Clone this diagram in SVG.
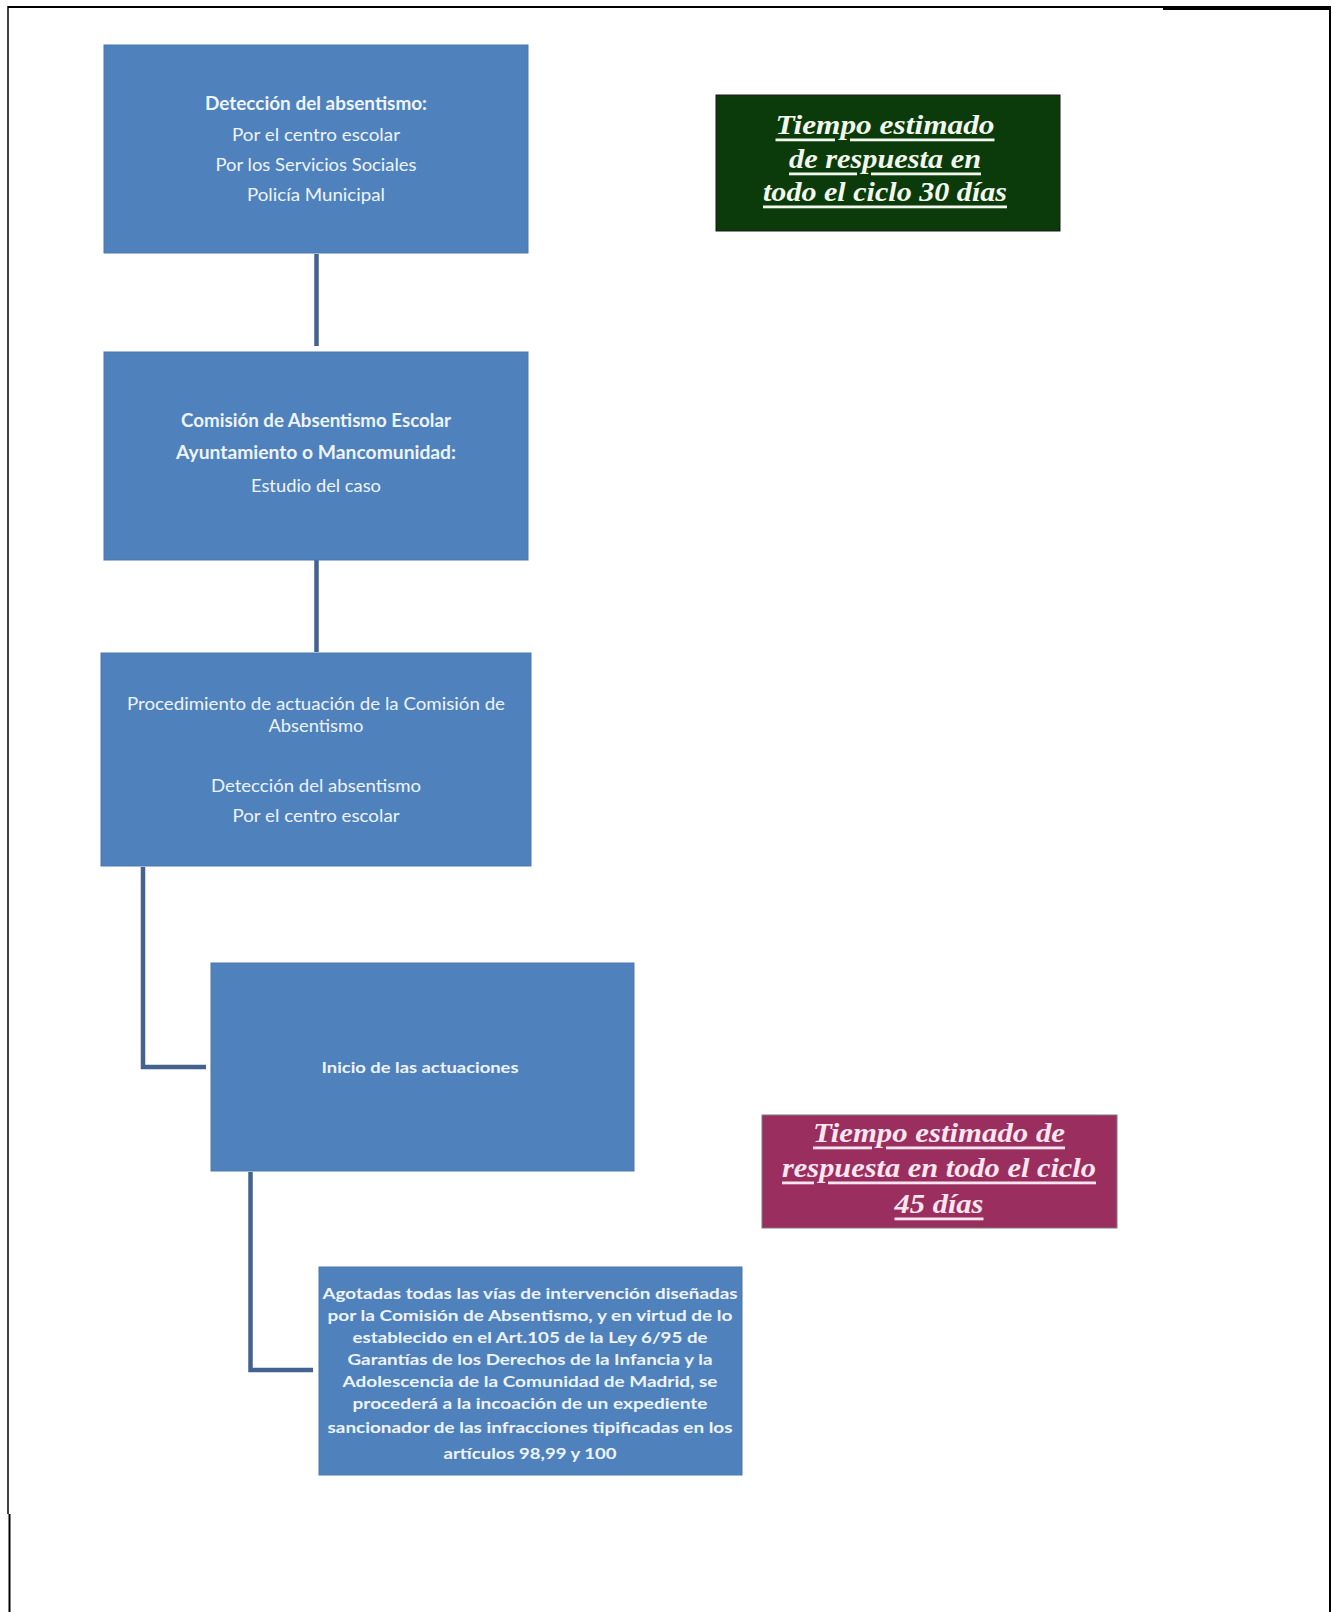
<svg xmlns="http://www.w3.org/2000/svg" width="1332" height="1612" viewBox="0 0 1332 1612">
<style>
.box{fill:#4f81bd;stroke:#4a76ad;stroke-width:1}
.t{font-family:Lato,"Open Sans","Liberation Sans",sans-serif;fill:#eef4ff;text-anchor:middle;dominant-baseline:central}
.b{font-weight:bold}
.s17{font-size:18px}
.s15{font-size:15.5px}
.conn{fill:none;stroke:#43628f;stroke-width:4.5}
.tm{font-family:"Liberation Serif","Times New Roman",serif;font-weight:bold;font-style:italic;font-size:28px;text-anchor:middle;text-decoration:underline;dominant-baseline:central}
.frame{stroke:#000;fill:none}
</style>
<rect width="1332" height="1612" fill="#fff"/>
<g id="frame">
<line class="frame" x1="8" y1="7" x2="1331" y2="7" stroke-width="2"/>
<line class="frame" x1="1163" y1="8.5" x2="1331" y2="8.5" stroke-width="3"/>
<line class="frame" x1="8" y1="6" x2="8" y2="1514" stroke-width="1.5"/>
<line class="frame" x1="9.5" y1="1514" x2="9.5" y2="1612" stroke-width="2"/>
<line class="frame" x1="1330" y1="6" x2="1330" y2="1612" stroke-width="2"/>
</g>
<g id="connectors">
<line class="conn" x1="316.5" y1="254" x2="316.5" y2="346"/>
<line class="conn" x1="316.5" y1="560" x2="316.5" y2="652"/>
<polyline class="conn" points="143,867 143,1067 206,1067"/>
<polyline class="conn" points="250.5,1172 250.5,1370 313,1370"/>
</g>
<g id="n1">
<rect class="box" x="104" y="45" width="424" height="208"/>
<text class="t b s17" x="316" y="103" textLength="222" lengthAdjust="spacingAndGlyphs">Detección del absentismo:</text>
<text class="t s17" x="316" y="134" textLength="168" lengthAdjust="spacingAndGlyphs">Por el centro escolar</text>
<text class="t s17" x="316" y="164" textLength="201" lengthAdjust="spacingAndGlyphs">Por los Servicios Sociales</text>
<text class="t s17" x="316" y="194" textLength="138" lengthAdjust="spacingAndGlyphs">Policía Municipal</text>
</g>
<g id="n2">
<rect class="box" x="104" y="352" width="424" height="208"/>
<text class="t b s17" x="316" y="420" textLength="270" lengthAdjust="spacingAndGlyphs">Comisión de Absentismo Escolar</text>
<text class="t b s17" x="316" y="452" textLength="280" lengthAdjust="spacingAndGlyphs">Ayuntamiento o Mancomunidad:</text>
<text class="t s17" x="316" y="485" textLength="130" lengthAdjust="spacingAndGlyphs">Estudio del caso</text>
</g>
<g id="n3">
<rect class="box" x="101" y="653" width="430" height="213"/>
<text class="t s17" x="316" y="703" textLength="378" lengthAdjust="spacingAndGlyphs">Procedimiento de actuación de la Comisión de</text>
<text class="t s17" x="316" y="725" textLength="95" lengthAdjust="spacingAndGlyphs">Absentismo</text>
<text class="t s17" x="316" y="785" textLength="210" lengthAdjust="spacingAndGlyphs">Detección del absentismo</text>
<text class="t s17" x="316" y="815" textLength="167" lengthAdjust="spacingAndGlyphs">Por el centro escolar</text>
</g>
<g id="n4">
<rect class="box" x="211" y="963" width="423" height="208"/>
<text class="t b s15" x="420" y="1067" textLength="197" lengthAdjust="spacingAndGlyphs">Inicio  de las actuaciones</text>
</g>
<g id="n5">
<rect class="box" x="319" y="1267" width="423" height="208"/>
<text class="t b s15" x="530" y="1293" textLength="415" lengthAdjust="spacingAndGlyphs">Agotadas todas las vías de intervención  diseñadas</text>
<text class="t b s15" x="530" y="1315" textLength="405" lengthAdjust="spacingAndGlyphs">por la Comisión  de Absentismo,  y en virtud de lo</text>
<text class="t b s15" x="530" y="1337" textLength="355" lengthAdjust="spacingAndGlyphs">establecido  en el Art.105 de la Ley 6/95 de</text>
<text class="t b s15" x="530" y="1359" textLength="365" lengthAdjust="spacingAndGlyphs">Garantías de los Derechos de la Infancia  y la</text>
<text class="t b s15" x="530" y="1381" textLength="375" lengthAdjust="spacingAndGlyphs">Adolescencia  de la Comunidad  de Madrid, se</text>
<text class="t b s15" x="530" y="1403" textLength="355" lengthAdjust="spacingAndGlyphs">procederá a la incoación  de un  expediente</text>
<text class="t b s15" x="530" y="1427" textLength="405" lengthAdjust="spacingAndGlyphs">sancionador  de las infracciones  tipificadas  en los</text>
<text class="t b s15" x="530" y="1453" textLength="173" lengthAdjust="spacingAndGlyphs">artículos 98,99 y 100</text>
</g>
<g id="n6">
<rect x="716" y="95" width="344" height="136" fill="#0b3a0b" stroke="#1a1a1a" stroke-width="1"/>
<text class="tm" x="885" y="124" fill="#f2f8ee" textLength="219" lengthAdjust="spacingAndGlyphs">Tiempo  estimado</text>
<text class="tm" x="885" y="158" fill="#f2f8ee" textLength="192" lengthAdjust="spacingAndGlyphs">de respuesta en</text>
<text class="tm" x="885" y="191" fill="#f2f8ee" textLength="244" lengthAdjust="spacingAndGlyphs">todo el ciclo 30 días</text>
</g>
<g id="n7">
<rect x="762" y="1115" width="355" height="113" fill="#9a2e5f" stroke="#7a7a7a" stroke-width="1"/>
<text class="tm" x="939" y="1132" fill="#fbe6f0" textLength="252" lengthAdjust="spacingAndGlyphs">Tiempo estimado de</text>
<text class="tm" x="939" y="1167" fill="#fbe6f0" textLength="314" lengthAdjust="spacingAndGlyphs">respuesta en todo el ciclo</text>
<text class="tm" x="939" y="1203" fill="#fbe6f0" textLength="89" lengthAdjust="spacingAndGlyphs">45 días</text>
</g>
</svg>
